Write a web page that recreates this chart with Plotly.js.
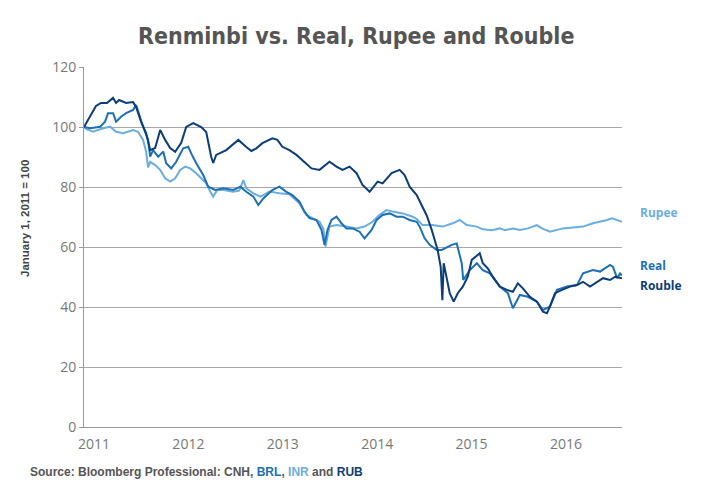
<!DOCTYPE html>
<html>
<head>
<meta charset="utf-8">
<script src="https://cdn.plot.ly/plotly-3.0.1.min.js"></script>
<style>
  html, body { margin: 0; padding: 0; background: #ffffff; }
  #chart { width: 720px; height: 500px; }
</style>
</head>
<body>
<div id="chart"></div>
<script>
// ---- Data (index, January 1, 2011 = 100); x values are decimal years ----
const yearTicks = [2011, 2012, 2013, 2014, 2015, 2016];
const yearLabels = ['2011', '2012', '2013', '2014', '2015', '2016'];

const rupeeYears = [2011.000, 2011.032, 2011.096, 2011.202, 2011.276, 2011.340, 2011.414, 2011.520, 2011.573, 2011.626,
  2011.658, 2011.679, 2011.701, 2011.754, 2011.807, 2011.860, 2011.913, 2011.966, 2012.019, 2012.072,
  2012.125, 2012.189, 2012.242, 2012.295, 2012.338, 2012.369, 2012.412, 2012.476, 2012.582, 2012.645,
  2012.688, 2012.720, 2012.794, 2012.868, 2012.900, 2012.964, 2013.070, 2013.176, 2013.282, 2013.357,
  2013.420, 2013.495, 2013.537, 2013.558, 2013.601, 2013.675, 2013.781, 2013.888, 2013.972, 2014.057,
  2014.132, 2014.206, 2014.270, 2014.376, 2014.482, 2014.525, 2014.588, 2014.694, 2014.801, 2014.907,
  2014.981, 2015.055, 2015.162, 2015.225, 2015.321, 2015.406, 2015.459, 2015.544, 2015.618, 2015.703,
  2015.798, 2015.852, 2015.936, 2016.011, 2016.075, 2016.181, 2016.287, 2016.393, 2016.467, 2016.542,
  2016.595, 2016.648, 2016.701];
const rupeeValues = [100, 99.2, 98.4, 99.6, 100.1, 98.4, 97.9, 99, 98.4, 95.7,
  91.8, 86.5, 88.4, 87.3, 85.7, 82.9, 81.8, 82.9, 85.7, 86.8,
  86.2, 84.6, 82.9, 81.2, 78.4, 76.8, 79, 79, 78.4, 78.8,
  82.3, 79.6, 77.9, 76.8, 77.3, 78.5, 77.9, 77.6, 74.6, 70.7,
  69.6, 68.4, 66, 60.1, 66.8, 67.3, 66.8, 66.2, 66.8, 68.4,
  70.7, 72.3, 71.8, 71.2, 70.1, 69.3, 67.3, 67.3, 66.8, 67.9,
  69, 67.3, 66.8, 65.9, 65.6, 66.2, 65.6, 66.2, 65.7, 66.2,
  67.3, 66.2, 65.1, 65.6, 66.2, 66.5, 66.8, 67.9, 68.4, 69,
  69.6, 69, 68.4];

const realYears = [2011.000, 2011.064, 2011.170, 2011.223, 2011.255, 2011.308, 2011.340, 2011.393, 2011.446, 2011.520,
  2011.552, 2011.594, 2011.626, 2011.679, 2011.701, 2011.732, 2011.786, 2011.839, 2011.871, 2011.924,
  2011.977, 2012.051, 2012.104, 2012.136, 2012.189, 2012.263, 2012.316, 2012.391, 2012.476, 2012.582,
  2012.656, 2012.720, 2012.794, 2012.847, 2012.900, 2012.996, 2013.070, 2013.144, 2013.208, 2013.282,
  2013.336, 2013.389, 2013.463, 2013.516, 2013.548, 2013.580, 2013.622, 2013.675, 2013.728, 2013.781,
  2013.845, 2013.919, 2013.972, 2014.047, 2014.100, 2014.164, 2014.238, 2014.312, 2014.376, 2014.450,
  2014.525, 2014.556, 2014.609, 2014.663, 2014.737, 2014.790, 2014.896, 2014.949, 2015.002, 2015.018,
  2015.087, 2015.162, 2015.225, 2015.300, 2015.406, 2015.491, 2015.544, 2015.618, 2015.703, 2015.798,
  2015.862, 2015.936, 2016.011, 2016.117, 2016.223, 2016.287, 2016.393, 2016.467, 2016.573, 2016.605,
  2016.648, 2016.680, 2016.701];
const realValues = [100, 99.6, 100.1, 101.8, 104.6, 104.6, 101.8, 103.4, 104.6, 105.7,
  107.3, 102.9, 100.1, 95.7, 90.1, 92.3, 90.1, 91.8, 87.9, 86.2,
  88.4, 92.9, 93.4, 91.2, 87.9, 84, 80.1, 79, 79.6, 79,
  80.1, 78.4, 76.8, 74, 76.2, 79, 80.1, 78.4, 77.3, 75.1,
  71.8, 69.6, 69, 65.7, 60.7, 65.7, 69, 70.1, 67.9, 66.2,
  66.2, 65.1, 62.9, 65.7, 69, 70.7, 71.2, 70.1, 70.1, 69,
  68.4, 66.8, 62.9, 60.7, 59, 59, 60.7, 61.2, 54.6, 49,
  52.3, 54.6, 52.3, 51.2, 46.8, 44.6, 39.6, 44, 43.4, 41.8,
  39, 40.1, 45.7, 46.8, 47.3, 51.2, 52.3, 51.8, 54, 53.4,
  49.6, 51.2, 50.5];

const roubleYears = [2011.000, 2011.127, 2011.180, 2011.244, 2011.308, 2011.340, 2011.372, 2011.446, 2011.520, 2011.552,
  2011.605, 2011.658, 2011.701, 2011.754, 2011.807, 2011.860, 2011.913, 2011.966, 2012.030, 2012.083,
  2012.157, 2012.242, 2012.295, 2012.348, 2012.369, 2012.401, 2012.507, 2012.635, 2012.720, 2012.773,
  2012.826, 2012.890, 2012.996, 2013.049, 2013.102, 2013.176, 2013.251, 2013.336, 2013.410, 2013.495,
  2013.601, 2013.675, 2013.739, 2013.813, 2013.888, 2013.951, 2014.026, 2014.111, 2014.164, 2014.259,
  2014.344, 2014.397, 2014.450, 2014.525, 2014.567, 2014.631, 2014.684, 2014.716, 2014.747, 2014.779,
  2014.797, 2014.811, 2014.843, 2014.875, 2014.917, 2014.960, 2015.013, 2015.066, 2015.108, 2015.162,
  2015.193, 2015.225, 2015.278, 2015.331, 2015.406, 2015.480, 2015.544, 2015.597, 2015.650, 2015.724,
  2015.798, 2015.862, 2015.905, 2015.936, 2015.990, 2016.064, 2016.149, 2016.223, 2016.287, 2016.361,
  2016.435, 2016.499, 2016.573, 2016.627, 2016.701];
const roubleValues = [100, 107, 108, 108, 109.7, 108, 109, 108, 108.3, 106.7,
  101.7, 98, 92.3, 93, 99, 95.7, 93, 91.7, 94.7, 100,
  101.3, 100, 98.3, 90, 88, 90.7, 92.3, 95.7, 93.3, 92,
  92.9, 94.6, 96.2, 95.7, 93.4, 92.3, 90.7, 88.4, 86.2, 85.7,
  88.4, 86.8, 85.7, 86.8, 84.6, 80.7, 78.4, 81.8, 81.2, 84.6,
  85.7, 84, 80.1, 77.3, 74.5, 70.5, 65.7, 61.8, 59, 53.4,
  42.3, 54.6, 49, 44.6, 41.8, 44.6, 46.8, 50.1, 55.7, 57.3,
  57.9, 54.6, 52.9, 50.1, 46.8, 45.7, 45.1, 47.9, 46.2, 43.4,
  41.8, 38.4, 37.9, 40.1, 44.6, 45.7, 46.8, 47.3, 48.4, 46.8,
  48.4, 49.6, 49, 50.1, 49.6];

const seriesNames = ['Rupee', 'Real', 'Rouble'];
const seriesColors = ['#6aaee0', '#1d6fb6', '#0c3d78'];

// ---- Traces ----
const traces = [
  {x: rupeeYears, y: rupeeValues, name: seriesNames[0], type: 'scatter', mode: 'lines',
   line: {color: seriesColors[0], width: 2}},
  {x: realYears, y: realValues, name: seriesNames[1], type: 'scatter', mode: 'lines',
   line: {color: seriesColors[1], width: 2}},
  {x: roubleYears, y: roubleValues, name: seriesNames[2], type: 'scatter', mode: 'lines',
   line: {color: seriesColors[2], width: 2}}
];

const layout = {
  width: 720, height: 500,
  paper_bgcolor: '#ffffff', plot_bgcolor: '#ffffff',
  margin: {l: 84, r: 98, t: 67, b: 73},
  showlegend: false,
  font: {family: 'Open Sans, Liberation Sans, sans-serif', color: '#777'},
  title: {
    text: '<b>Renminbi vs. Real, Rupee and Rouble</b>',
    x: 0.506, xanchor: 'center', xref: 'paper',
    y: 0.928, yanchor: 'middle',
    font: {family: 'DejaVu Sans Condensed, sans-serif', size: 23, color: '#555555'}
  },
  xaxis: {
    type: 'linear', range: [2011, 2016.70],
    tickmode: 'array', tickvals: yearTicks, ticktext: yearLabels,
    ticks: '', ticklabelshift: 10, ticklabelstandoff: 4,
    showgrid: false, zeroline: false,
    showline: true, linecolor: '#9a9a9a', linewidth: 1,
    tickfont: {size: 14, color: '#777'}
  },
  yaxis: {
    range: [0, 120], tickmode: 'array', tickvals: [0, 20, 40, 60, 80, 100, 120],
    ticks: 'outside', ticklen: 4, tickcolor: '#9a9a9a',
    showgrid: true, gridcolor: '#a8a8a8', gridwidth: 1,
    zeroline: false, showline: true, linecolor: '#9a9a9a', linewidth: 1,
    tickfont: {size: 14, color: '#777'}
  },
  annotations: [
    {text: '<b>January 1, 2011 = 100</b>', xref: 'paper', yref: 'paper',
     x: -0.11, y: 0.58, xanchor: 'center', yanchor: 'middle', textangle: -90, showarrow: false,
     font: {family: 'Liberation Sans, Arial, sans-serif', size: 11.5, color: '#444'}},
    {text: '<b>' + seriesNames[0] + '</b>', xref: 'paper', yref: 'paper', x: 1.03, y: 0.597,
     xanchor: 'left', yanchor: 'middle', showarrow: false,
     font: {family: 'Open Sans, sans-serif', size: 12, color: seriesColors[0]}},
    {text: '<b>' + seriesNames[1] + '</b>', xref: 'paper', yref: 'paper', x: 1.03, y: 0.45,
     xanchor: 'left', yanchor: 'middle', showarrow: false,
     font: {family: 'Open Sans, sans-serif', size: 12, color: seriesColors[1]}},
    {text: '<b>' + seriesNames[2] + '</b>', xref: 'paper', yref: 'paper', x: 1.03, y: 0.394,
     xanchor: 'left', yanchor: 'middle', showarrow: false,
     font: {family: 'Open Sans, sans-serif', size: 12, color: seriesColors[2]}},
    {text: '<b>Source: Bloomberg Professional: CNH, <span style="color:' + seriesColors[1] + '">BRL</span>, ' +
           '<span style="color:' + seriesColors[0] + '">INR</span> and ' +
           '<span style="color:' + seriesColors[2] + '">RUB</span></b>',
     xref: 'paper', yref: 'paper', x: -0.104, y: -0.125, xanchor: 'left', yanchor: 'middle', showarrow: false,
     font: {family: 'Liberation Sans, Arial, sans-serif', size: 12, color: '#555'}}
  ]
};

Plotly.newPlot('chart', traces, layout, {displayModeBar: false, staticPlot: true});
</script>
</body>
</html>
